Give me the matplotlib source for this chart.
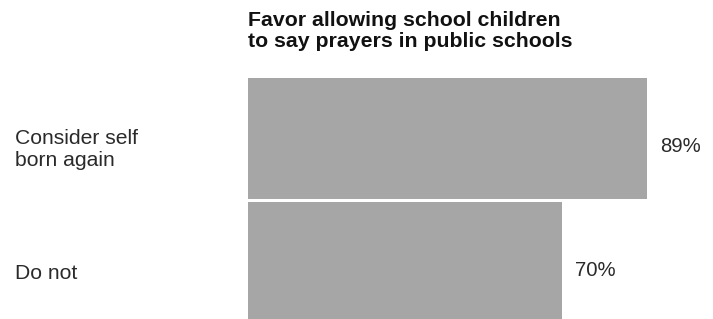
import matplotlib.pyplot as plt

# data
groups = ["Consider self\nborn again", "Do not"]
values = [89, 70]
title = "Favor allowing school children\nto say prayers in public schools"

W, H = 713, 319
fig = plt.figure(figsize=(W / 100, H / 100), dpi=100)
fig.patch.set_facecolor("white")

# axes: x 0..100 spans pixels 248..696, top at y=78, bottom at image edge
ax = fig.add_axes([248 / W, 0, 448 / W, (H - 78) / H])
ax.set_xlim(0, 100)
ax.set_ylim(1.456, -0.488)
ax.axis("off")

ypos = list(range(len(values)))
ax.barh(ypos, values, height=0.976, color="#a6a6a6", edgecolor="none")

for y, name, v in zip(ypos, groups, values):
    ax.text(-52.0, y + 0.085, name, ha="left", va="center", fontsize=15.2,
            color="#2a2a2a", family="Liberation Sans", linespacing=1.2,
            clip_on=False)
    ax.text(v + 3.0, y + 0.062, f"{v}%", ha="left", va="center", fontsize=14.6,
            color="#2a2a2a", family="Liberation Sans", clip_on=False)

fig.text(248 / W, 1 - 11 / H, title, ha="left", va="top", fontsize=15.3,
         fontweight="bold", color="#111111", family="Liberation Sans",
         linespacing=1.15)

fig.savefig("out.png", dpi=100)
